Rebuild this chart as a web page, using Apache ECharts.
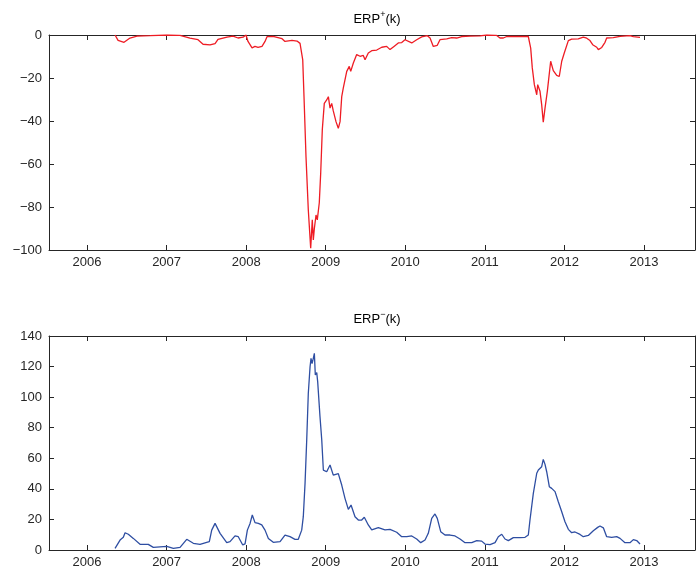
<!DOCTYPE html>
<html>
<head>
<meta charset="utf-8">
<script src="https://cdn.jsdelivr.net/npm/echarts@6/dist/echarts.min.js"></script>
<style>html,body{margin:0;padding:0;background:#fff}#c{width:696px;height:574px}</style>
</head>
<body>
<div id="c"></div>
<script>
// Year ticks
var yearTicks = [2006, 2007, 2008, 2009, 2010, 2011, 2012, 2013];

// ERP+(k): time (decimal years) and values
var erpPlusT = [2006.352,2006.390,2006.465,2006.540,2006.628,2006.792,2007.005,2007.169,2007.294,2007.395,2007.458,2007.546,2007.609,2007.646,2007.759,2007.835,2007.898,2007.961,2007.998,2008.023,2008.074,2008.111,2008.149,2008.199,2008.237,2008.262,2008.338,2008.451,2008.488,2008.576,2008.639,2008.677,2008.711,2008.727,2008.752,2008.781,2008.811,2008.831,2008.844,2008.857,2008.878,2008.894,2008.919,2008.937,2008.957,2008.982,2009.012,2009.033,2009.054,2009.075,2009.095,2009.129,2009.158,2009.180,2009.201,2009.221,2009.264,2009.296,2009.314,2009.347,2009.389,2009.431,2009.472,2009.494,2009.535,2009.578,2009.641,2009.704,2009.766,2009.808,2009.858,2009.912,2009.955,2009.996,2010.081,2010.143,2010.206,2010.277,2010.311,2010.352,2010.373,2010.402,2010.436,2010.521,2010.583,2010.646,2010.709,2010.813,2010.939,2011.023,2011.149,2011.190,2011.232,2011.275,2011.442,2011.546,2011.576,2011.596,2011.622,2011.652,2011.664,2011.693,2011.714,2011.734,2011.756,2011.785,2011.827,2011.860,2011.903,2011.935,2011.966,2011.998,2012.049,2012.091,2012.174,2012.237,2012.280,2012.321,2012.355,2012.406,2012.426,2012.469,2012.510,2012.531,2012.614,2012.699,2012.824,2012.866,2012.950];
var erpPlusV = [0,-2.5,-3.4,-1.4,-0.5,-0.3,0,-0.2,-1.5,-2.2,-4.3,-4.6,-4.0,-2.0,-1.0,-0.5,-1.4,-1.0,0,-3,-6,-5.3,-5.8,-5.3,-3,-0.8,-0.6,-1.7,-3,-2.5,-2.8,-3.9,-11.6,-28.7,-56.6,-81.4,-99.2,-86,-95.3,-90,-83.7,-86,-78,-64,-44,-31.8,-30.2,-28.7,-34,-31.8,-35.3,-40.3,-43.4,-40.3,-28.7,-24.6,-16.9,-14.6,-16.9,-13,-9.1,-9.9,-9.5,-11.5,-8.4,-7.3,-7,-5.7,-5.3,-6.8,-5.3,-3.7,-3.5,-2.2,-3.7,-2.2,-0.9,-0.3,-1.4,-5.3,-5.7,-4.8,-2.2,-1.8,-1.2,-1.4,-0.7,-0.5,-0.4,0,-0.2,-1.4,-1.4,-0.7,-0.7,-0.7,-6.1,-15.3,-23.1,-27.8,-23.1,-26.2,-32.4,-40.5,-34,-26.2,-12.2,-16.6,-18.8,-19.3,-12.2,-8.4,-2.6,-1.9,-1.8,-1.0,-1.5,-2.6,-4.5,-5.7,-6.8,-5.8,-3.4,-1.4,-1.2,-0.6,-0.3,-0.8,-1.1];

// ERP-(k): time (decimal years) and values
var erpMinusT = [2006.352,2006.415,2006.456,2006.478,2006.519,2006.582,2006.666,2006.770,2006.833,2007.002,2007.085,2007.169,2007.253,2007.336,2007.420,2007.504,2007.537,2007.567,2007.609,2007.672,2007.756,2007.797,2007.860,2007.901,2007.957,2007.986,2008.015,2008.049,2008.077,2008.111,2008.153,2008.196,2008.237,2008.279,2008.341,2008.426,2008.488,2008.551,2008.614,2008.655,2008.698,2008.718,2008.740,2008.761,2008.781,2008.803,2008.815,2008.828,2008.844,2008.857,2008.869,2008.887,2008.899,2008.928,2008.950,2008.970,2009.012,2009.054,2009.095,2009.158,2009.201,2009.242,2009.284,2009.318,2009.368,2009.410,2009.452,2009.485,2009.535,2009.578,2009.661,2009.745,2009.808,2009.892,2009.955,2010.018,2010.081,2010.143,2010.194,2010.248,2010.289,2010.332,2010.373,2010.402,2010.445,2010.499,2010.562,2010.625,2010.688,2010.751,2010.835,2010.898,2010.960,2011.002,2011.065,2011.128,2011.169,2011.212,2011.253,2011.295,2011.358,2011.442,2011.505,2011.546,2011.567,2011.609,2011.652,2011.672,2011.693,2011.714,2011.734,2011.756,2011.777,2011.810,2011.840,2011.882,2011.923,2011.966,2012.007,2012.049,2012.091,2012.133,2012.196,2012.237,2012.300,2012.363,2012.418,2012.447,2012.489,2012.531,2012.594,2012.657,2012.699,2012.761,2012.824,2012.866,2012.908,2012.950];
var erpMinusV = [1.1,6.5,8.3,11.3,10.3,7.6,3.7,3.7,1.7,2.4,1.1,1.7,7.0,4.4,3.7,5.0,5.5,13,17.4,10.9,4.9,5.5,9.2,8.7,3.3,4,13,17.4,22.9,17.9,17.4,16.4,13,7.6,5,5.5,9.8,8.7,7,7,13,21.8,43.6,72,102.5,119.9,125.4,122,125.4,128.7,114.5,116,110,87.2,72,52.3,51.2,55.6,49,50,42.5,33.8,26.6,29.4,21.8,19.6,19.6,21.4,16.4,13.1,14.6,13.1,13.5,11.6,8.7,8.7,9.2,7.2,4.8,6.5,10.9,20.7,23.6,20.7,12,9.8,9.8,9.2,7.2,4.8,4.8,6.1,5.8,3.9,3.5,4.8,8.7,10.3,7.2,6.1,8.1,8.1,8.3,9.8,19.6,37,50.2,52.3,51,54.5,59.3,56,51.2,41.4,40.3,38.2,31.6,25,18.5,13.5,11.3,11.8,10.2,8.7,9.5,12.6,14.8,15.7,14.5,8.7,8.3,8.7,7.6,4.8,4.8,6.8,6.2,3.9];

function pairs(t, v) { return t.map(function (x, i) { return [x, v[i]]; }); }

var axisColor = '#262626';
var font = 'Liberation Sans, Arial, Helvetica, sans-serif';
var xMin = 2005.522, xMax = 2013.641;

function xBottom(gi) {
  return {
    type: 'value', gridIndex: gi, min: xMin, max: xMax, position: 'bottom',
    axisLine: { show: true, onZero: false, lineStyle: { color: axisColor, width: 1 } },
    axisTick: { show: true, inside: true, length: 5, customValues: yearTicks, lineStyle: { color: axisColor } },
    axisLabel: { show: true, customValues: yearTicks, margin: 6, color: axisColor, fontSize: 13, fontFamily: font, formatter: function (v) { return String(Math.round(v)); } },
    splitLine: { show: false }
  };
}
function xTop(gi) {
  return {
    type: 'value', gridIndex: gi, min: xMin, max: xMax, position: 'top',
    axisLine: { show: true, onZero: false, lineStyle: { color: axisColor, width: 1 } },
    axisTick: { show: true, inside: true, length: 5, customValues: yearTicks, lineStyle: { color: axisColor } },
    axisLabel: { show: false },
    splitLine: { show: false }
  };
}
function yLeft(gi, min, max) {
  return {
    type: 'value', gridIndex: gi, min: min, max: max, interval: 20, position: 'left',
    axisLine: { show: true, onZero: false, lineStyle: { color: axisColor, width: 1 } },
    axisTick: { show: true, inside: true, length: 5, lineStyle: { color: axisColor } },
    axisLabel: { show: true, margin: 7, color: axisColor, fontSize: 13, fontFamily: font, formatter: function (v) { return String(v).replace('-', '\u2212'); } },
    splitLine: { show: false }
  };
}
function yRight(gi, min, max) {
  return {
    type: 'value', gridIndex: gi, min: min, max: max, interval: 20, position: 'right',
    axisLine: { show: true, onZero: false, lineStyle: { color: axisColor, width: 1 } },
    axisTick: { show: true, inside: true, length: 5, lineStyle: { color: axisColor } },
    axisLabel: { show: false },
    splitLine: { show: false }
  };
}

var titleRich = {
  b: { color: '#000', fontSize: 13, fontFamily: font, lineHeight: 16, verticalAlign: 'bottom' },
  s: { color: '#000', fontSize: 9, fontFamily: font, lineHeight: 16, verticalAlign: 'top', padding: [0, 0, 6, 0] }
};

var chart = echarts.init(document.getElementById('c'), null, { renderer: 'canvas' });
chart.setOption({
  animation: false,
  backgroundColor: '#ffffff',
  title: [
    { text: '{b|ERP}{s|+}{b|(k)}', left: 372, top: 5, textAlign: 'center', textStyle: { rich: titleRich, fontSize: 13, fontWeight: 'normal', fontFamily: font } },
    { text: '{b|ERP}{s|\u2212}{b|(k)}', left: 372, top: 305, textAlign: 'center', textStyle: { rich: titleRich, fontSize: 13, fontWeight: 'normal', fontFamily: font } }
  ],
  grid: [
    { left: 49, top: 35, width: 646, height: 215, containLabel: false },
    { left: 49, top: 336, width: 646, height: 214, containLabel: false }
  ],
  xAxis: [xBottom(0), xTop(0), xBottom(1), xTop(1)],
  yAxis: [yLeft(0, -100, 0), yRight(0, -100, 0), yLeft(1, 0, 140), yRight(1, 0, 140)],
  series: [
    { type: 'line', xAxisIndex: 0, yAxisIndex: 0, data: pairs(erpPlusT, erpPlusV), showSymbol: false, lineStyle: { color: '#ee1c24', width: 1.3 }, itemStyle: { color: '#ee1c24' } },
    { type: 'line', xAxisIndex: 2, yAxisIndex: 2, data: pairs(erpMinusT, erpMinusV), showSymbol: false, lineStyle: { color: '#2e4ea2', width: 1.3 }, itemStyle: { color: '#2e4ea2' } }
  ]
});
</script>
</body>
</html>
